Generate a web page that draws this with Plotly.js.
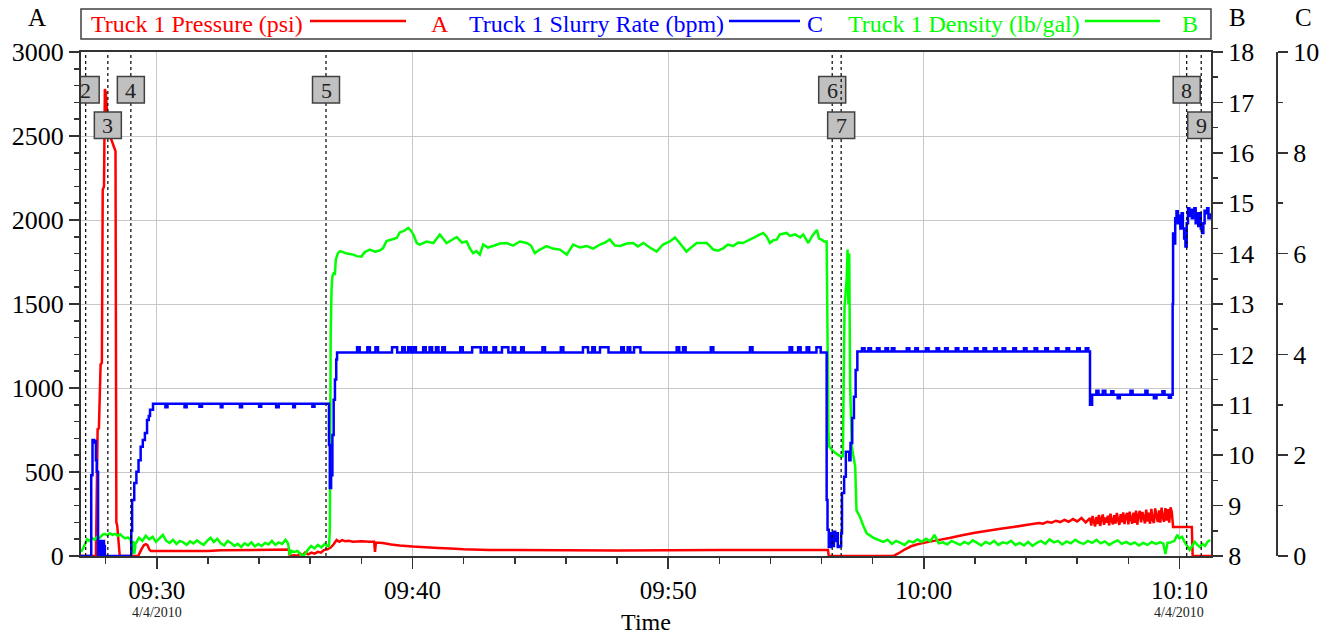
<!DOCTYPE html>
<html>
<head>
<meta charset="utf-8">
<script src="https://cdn.plot.ly/plotly-3.0.1.min.js"></script>
<style>
html,body{margin:0;padding:0;background:#fff;}
#chart{width:1331px;height:635px;}
</style>
</head>
<body>
<div id="chart"></div>
<script>
// ---------------- DATA ----------------
const day = '2010-04-04 ';

// Truck 1 Pressure (psi) -> axis A
const pressureTimes = [
 '09:27:02','09:27:37','09:27:41','09:27:44','09:27:48','09:27:51','09:27:53','09:27:56','09:27:58','09:28:00',
 '09:28:03','09:28:08','09:28:13','09:28:20','09:28:23','09:28:25','09:28:27','09:28:33','09:29:16','09:29:20',
 '09:29:25','09:29:30','09:29:34','09:29:38','09:29:42','09:29:46','09:32:00','09:32:30','09:35:10','09:35:12',
 '09:35:22','09:35:30','09:35:36','09:35:42','09:35:48','09:35:55','09:36:03','09:36:10','09:36:18','09:36:25',
 '09:36:32','09:36:40','09:36:48','09:36:55','09:37:02','09:37:08','09:37:15','09:37:22','09:37:30','09:37:40',
 '09:38:00','09:38:20','09:38:30','09:38:32','09:38:34','09:38:50','09:39:10','09:39:30','09:40:00','09:40:30',
 '09:41:00','09:41:30','09:42:00','09:43:00','09:44:00','09:48:00','09:52:00','09:56:15','09:56:17','09:58:48',
 '09:59:00','09:59:16','09:59:30','09:59:45','10:00:00','10:00:30','10:01:00','10:01:30','10:02:00','10:02:30',
 '10:03:00','10:03:30','10:04:00','10:04:30','10:04:40','10:04:50','10:05:00','10:05:10','10:05:20','10:05:30',
 '10:05:40','10:05:50','10:06:00','10:06:10','10:06:20',
 '10:06:30','10:06:33','10:06:36','10:06:39','10:06:42','10:06:45','10:06:48','10:06:51','10:06:54','10:06:57',
 '10:07:00','10:07:03','10:07:06','10:07:09','10:07:12','10:07:15','10:07:18','10:07:21','10:07:24','10:07:27',
 '10:07:30','10:07:33','10:07:36','10:07:39','10:07:42','10:07:45','10:07:48','10:07:51','10:07:54','10:07:57',
 '10:08:00','10:08:03','10:08:06','10:08:09','10:08:12','10:08:15','10:08:18','10:08:21','10:08:24','10:08:27',
 '10:08:30','10:08:33','10:08:36','10:08:39','10:08:42','10:08:45','10:08:48','10:08:51','10:08:54','10:08:57',
 '10:09:00','10:09:03','10:09:06','10:09:09','10:09:12','10:09:15','10:09:18','10:09:21','10:09:24','10:09:27',
 '10:09:30','10:09:33','10:09:36','10:09:39','10:09:42',
 '10:09:45','10:10:29','10:10:31','10:11:14'
];
const pressurePsi = [
 0,0,755,760,1140,1150,2180,2200,2780,2760,
 2650,2500,2480,2430,2410,200,180,0,0,20,
 45,65,70,65,40,30,30,34,38,0,
 5,0,15,5,20,10,20,14,25,20,
 35,40,50,70,95,85,95,88,90,85,
 88,85,85,25,80,78,68,62,56,52,
 48,44,40,36,35,33,35,36,0,0,
 15,40,58,70,78,93,107,123,138,150,
 162,172,185,197,192,204,198,210,202,215,
 204,220,206,226,200,
 226,181,238,205,176,232,190,244,179,221,
 247,186,229,198,240,183,252,209,188,243,
 193,256,214,185,249,201,260,190,236,257,
 189,264,222,193,258,197,270,186,245,268,
 200,262,231,194,276,205,258,192,280,215,
 197,283,240,203,271,199,288,226,204,285,
 210,279,198,290,262,
 173,173,0,0
];

// Truck 1 Slurry Rate (bpm) -> axis C (stepwise logger values)
const rateTimes = [
 '09:27:02','09:27:26','09:27:29','09:27:33','09:27:35','09:27:37','09:27:39','09:27:42','09:27:43','09:27:44',
 '09:27:45','09:27:46','09:27:47','09:27:48','09:27:49','09:27:50','09:27:51','09:27:52','09:27:53','09:27:54',
 '09:27:55','09:27:56','09:27:57','09:27:58','09:29:00','09:29:02','09:29:07','09:29:12','09:29:17','09:29:22',
 '09:29:27','09:29:32','09:29:37','09:29:41','09:29:44','09:29:51',
 '09:30:20','09:30:25','09:31:05','09:31:10','09:31:40','09:31:46','09:32:30','09:32:34','09:33:15','09:33:20',
 '09:34:00','09:34:05','09:34:40','09:34:46','09:35:20','09:35:24','09:36:05','09:36:10',
 '09:36:44','09:36:46','09:36:49','09:36:52','09:36:55','09:36:58','09:37:01','09:37:03',
 '09:37:50','09:37:56','09:38:14','09:38:20','09:38:33','09:38:39','09:39:12','09:39:24','09:39:36','09:39:42',
 '09:39:50','09:39:56','09:40:02','09:40:08','09:40:25','09:40:31','09:40:40','09:40:46','09:40:55','09:41:01',
 '09:41:10','09:41:16','09:41:52','09:41:58','09:42:20','09:42:40','09:42:48','09:42:54','09:43:10','09:43:16',
 '09:43:30','09:43:45','09:43:55','09:44:01','09:44:15','09:44:21','09:45:05','09:45:11','09:45:48','09:45:54',
 '09:46:40','09:46:52','09:47:02','09:47:08','09:47:20','09:47:40','09:48:10','09:48:16','09:48:25','09:48:31',
 '09:48:40','09:48:55','09:50:20','09:50:26','09:50:35','09:50:41','09:51:40','09:51:46','09:53:12','09:53:18',
 '09:54:45','09:54:51','09:55:05','09:55:11','09:55:25','09:55:31','09:55:48','09:55:58',
 '09:56:12','09:56:14','09:56:17','09:56:21','09:56:25','09:56:29','09:56:32','09:56:35','09:56:38','09:56:42',
 '09:56:46','09:56:48','09:56:53','09:56:57','09:57:05','09:57:08','09:57:12','09:57:16','09:57:20','09:57:24',
 '09:57:35','09:57:41','09:57:50','09:57:56','09:58:10','09:58:16','09:58:30','09:58:36','09:58:45','09:58:51',
 '09:59:20','09:59:26','09:59:40','09:59:46','10:00:05','10:00:11','10:00:30','10:00:36','10:00:50','10:00:56',
 '10:01:15','10:01:21','10:01:35','10:01:41','10:02:00','10:02:06','10:02:20','10:02:26','10:02:45','10:02:51',
 '10:03:05','10:03:11','10:03:30','10:03:36','10:03:55','10:04:01','10:04:20','10:04:26','10:04:45','10:04:51',
 '10:05:10','10:05:16','10:05:35','10:05:41','10:06:00','10:06:06','10:06:20','10:06:26',
 '10:06:30','10:06:35','10:06:45','10:06:50','10:07:00','10:07:06','10:07:20','10:07:25','10:07:35','10:07:40',
 '10:08:05','10:08:10','10:08:40','10:08:45','10:09:00','10:09:06','10:09:20','10:09:25','10:09:35','10:09:40',
 '10:09:44','10:09:45','10:09:48','10:09:50','10:09:53','10:09:56','10:09:59','10:10:02','10:10:05','10:10:08',
 '10:10:11','10:10:14','10:10:17','10:10:20','10:10:23','10:10:26','10:10:29','10:10:32','10:10:35','10:10:38',
 '10:10:41','10:10:44','10:10:47','10:10:50','10:10:53','10:10:56','10:10:59','10:11:02','10:11:05','10:11:08',
 '10:11:14'
];
const rateBpm = [
 0,1.6,2.3,2.25,2.28,1.9,1.67,0,0.3,0,
 0.3,0.05,0.3,0,0.28,0.02,0.3,0,0.25,0.05,
 0.3,0,0.2,0,0.5,1.11,1.45,1.67,1.9,2.17,
 2.3,2.44,2.7,2.78,2.9,3.02,
 2.95,3.02,2.95,3.02,2.96,3.02,2.95,3.02,2.95,3.02,
 2.96,3.02,2.95,3.02,2.95,3.02,2.96,3.02,
 2.2,1.35,1.6,2.4,3.1,3.5,3.9,4.04,
 4.14,4.04,4.14,4.04,4.14,4.04,4.14,4.04,4.14,4.04,
 4.14,4.04,4.14,4.04,4.14,4.04,4.14,4.04,4.14,4.04,
 4.14,4.04,4.14,4.04,4.14,4.04,4.14,4.04,4.14,4.04,
 4.14,4.04,4.14,4.04,4.14,4.04,4.14,4.04,4.14,4.04,
 4.14,4.04,4.14,4.04,4.14,4.04,4.14,4.04,4.14,4.04,
 4.14,4.04,4.14,4.04,4.14,4.04,4.14,4.04,4.14,4.04,
 4.14,4.04,4.14,4.04,4.14,4.04,4.14,4.04,
 1.11,0.52,0.18,0.45,0.2,0.48,0.3,0.45,0.18,0.2,
 0.45,1.25,1.57,2.07,1.9,2.24,2.74,3.16,3.69,4.06,
 4.12,4.06,4.12,4.06,4.12,4.06,4.12,4.06,4.12,4.06,
 4.12,4.06,4.12,4.06,4.12,4.06,4.12,4.06,4.12,4.06,
 4.12,4.06,4.12,4.06,4.12,4.06,4.12,4.06,4.12,4.06,
 4.12,4.06,4.12,4.06,4.12,4.06,4.12,4.06,4.12,4.06,
 4.12,4.06,4.12,4.06,4.12,4.06,4.12,4.06,
 3.0,3.2,3.28,3.2,3.28,3.2,3.27,3.2,3.13,3.2,
 3.28,3.2,3.28,3.2,3.13,3.2,3.27,3.2,3.14,3.2,
 5.0,6.4,6.2,6.7,6.84,6.6,6.75,6.5,6.8,6.5,
 6.3,6.14,6.6,6.9,6.75,6.87,6.7,6.85,6.9,6.6,
 6.8,6.55,6.8,6.5,6.41,6.6,6.85,6.8,6.9,6.7,
 6.8
];

// Truck 1 Density (lb/gal) -> axis B
const densityTimes = [
 '09:27:02','09:27:07','09:27:12','09:27:16','09:27:22','09:27:28','09:27:34','09:27:40','09:27:46','09:27:52',
 '09:27:58','09:28:04','09:28:10','09:28:16','09:28:22','09:28:28','09:28:34','09:28:40','09:28:46','09:28:52',
 '09:28:58','09:29:01','09:29:03','09:29:05','09:29:07','09:29:10','09:29:13',
 '09:29:18','09:29:26','09:29:34','09:29:42','09:29:50','09:29:58','09:30:06','09:30:14','09:30:22','09:30:30',
 '09:30:38','09:30:46','09:30:54','09:31:02','09:31:10','09:31:18','09:31:26','09:31:34','09:31:42','09:31:50',
 '09:31:58','09:32:06','09:32:14','09:32:22','09:32:30','09:32:38','09:32:46','09:32:54','09:33:02','09:33:10',
 '09:33:18','09:33:26','09:33:34','09:33:42','09:33:50','09:33:58','09:34:06','09:34:14','09:34:22','09:34:30',
 '09:34:38','09:34:46','09:34:54','09:35:02','09:35:08','09:35:12','09:35:16','09:35:22','09:35:30','09:35:38',
 '09:35:46','09:35:54','09:36:02','09:36:10','09:36:18','09:36:26','09:36:34','09:36:40',
 '09:36:44','09:36:46','09:36:48','09:36:50','09:36:52','09:36:55','09:36:58','09:37:00','09:37:05','09:37:10',
 '09:37:14','09:37:26','09:37:41','09:37:49','09:38:00','09:38:08','09:38:20','09:38:32','09:38:43','09:38:51',
 '09:38:59','09:39:11','09:39:23','09:39:30','09:39:40','09:39:50','09:39:56','09:40:02','09:40:10','09:40:17',
 '09:40:33','09:40:49','09:41:04','09:41:20','09:41:30','09:41:44','09:41:56','09:42:07','09:42:15','09:42:22',
 '09:42:30','09:42:38','09:42:46','09:42:57','09:43:09','09:43:25','09:43:41','09:43:56','09:44:12','09:44:28',
 '09:44:38','09:44:47','09:44:59','09:45:15','09:45:29','09:45:46','09:46:02','09:46:17','09:46:33','09:46:49',
 '09:47:04','09:47:20','09:47:32','09:47:43','09:47:55','09:48:07','09:48:23','09:48:38','09:48:49','09:49:02',
 '09:49:17','09:49:33','09:49:48','09:50:04','09:50:16','09:50:28','09:50:43','09:50:51','09:51:07','09:51:31',
 '09:51:46','09:51:57','09:52:10','09:52:20','09:52:33','09:52:44','09:52:56','09:53:07','09:53:20','09:53:31',
 '09:53:43','09:53:51','09:53:59','09:54:06','09:54:15','09:54:22','09:54:38','09:54:46','09:54:58','09:55:10',
 '09:55:17','09:55:29','09:55:38','09:55:49','09:55:54','09:56:00','09:56:06','09:56:12',
 '09:56:16','09:56:18','09:56:25','09:56:32','09:56:40','09:56:46','09:56:50','09:56:54','09:56:59','09:57:01',
 '09:57:03','09:57:05','09:57:07','09:57:11','09:57:19','09:57:22','09:57:30','09:57:38','09:57:46','09:58:02',
 '09:58:25',
 '09:58:35','09:58:45','09:58:55','09:59:05','09:59:15','09:59:25','09:59:35','09:59:45','09:59:55','10:00:05',
 '10:00:15','10:00:25','10:00:35','10:00:45','10:00:55','10:01:05','10:01:15','10:01:25','10:01:35','10:01:45',
 '10:01:55','10:02:05','10:02:15','10:02:25','10:02:35','10:02:45','10:02:55','10:03:05','10:03:15','10:03:25',
 '10:03:35','10:03:45','10:03:55','10:04:05','10:04:15','10:04:25','10:04:35','10:04:45','10:04:55','10:05:05',
 '10:05:15','10:05:25','10:05:35','10:05:45','10:05:55','10:06:05','10:06:15','10:06:25','10:06:35','10:06:45',
 '10:06:55','10:07:05','10:07:15','10:07:25','10:07:35','10:07:45','10:07:55','10:08:05','10:08:15','10:08:25',
 '10:08:35','10:08:45','10:08:55','10:09:05','10:09:15','10:09:22','10:09:27','10:09:32','10:09:40','10:09:48',
 '10:09:55','10:10:00','10:10:06','10:10:12','10:10:18','10:10:24','10:10:30','10:10:36','10:10:42','10:10:48',
 '10:10:54','10:11:00','10:11:06','10:11:12'
];
const densityLbGal = [
 8.08,8.15,8.25,8.33,8.30,8.36,8.32,8.38,8.36,8.42,
 8.44,8.41,8.45,8.42,8.44,8.40,8.43,8.38,8.35,8.37,
 8.33,8.20,8.06,8.30,8.04,8.25,8.28,
 8.36,8.30,8.40,8.33,8.38,8.28,8.35,8.42,8.30,8.26,
 8.32,8.24,8.30,8.27,8.22,8.29,8.25,8.31,8.26,8.22,
 8.30,8.36,8.28,8.34,8.25,8.21,8.30,8.26,8.20,8.24,
 8.18,8.25,8.21,8.27,8.19,8.24,8.20,8.26,8.23,8.30,
 8.22,8.27,8.24,8.32,8.25,8.02,8.10,8.08,8.10,8.03,
 8.02,8.12,8.20,8.15,8.22,8.17,8.24,8.20,
 8.20,8.50,12.36,13.30,13.55,13.61,13.60,13.88,14.01,14.05,
 14.04,14.00,13.98,13.95,13.94,14.03,14.08,14.04,14.06,14.11,
 14.25,14.28,14.31,14.42,14.45,14.51,14.46,14.38,14.21,14.18,
 14.24,14.21,14.38,14.21,14.26,14.33,14.22,14.24,14.10,14.01,
 14.05,13.98,14.18,14.12,14.15,14.20,14.21,14.16,14.24,14.21,
 14.16,14.01,14.08,14.15,14.10,14.08,13.98,14.18,14.12,14.15,
 14.10,14.18,14.22,14.28,14.16,14.15,14.20,14.21,14.14,14.21,
 14.12,14.04,14.18,14.24,14.32,14.20,14.04,14.10,14.21,14.21,
 14.08,14.06,14.11,14.18,14.15,14.22,14.21,14.26,14.31,14.36,
 14.41,14.34,14.21,14.26,14.28,14.38,14.41,14.35,14.38,14.32,
 14.38,14.21,14.35,14.47,14.30,14.28,14.24,14.24,
 10.50,10.17,10.10,10.05,10.00,9.97,9.98,12.95,13.50,14.08,
 13.00,14.00,11.43,10.17,9.77,8.91,8.78,8.60,8.45,8.36,
 8.28,
 8.32,8.24,8.30,8.26,8.22,8.30,8.27,8.33,8.28,8.34,
 8.29,8.42,8.25,8.27,8.23,8.30,8.26,8.22,8.28,8.24,
 8.31,8.26,8.21,8.28,8.24,8.30,8.22,8.27,8.25,8.30,
 8.22,8.26,8.21,8.28,8.20,8.26,8.30,8.24,8.33,8.27,
 8.30,8.23,8.29,8.25,8.32,8.27,8.24,8.30,8.26,8.32,
 8.25,8.29,8.22,8.27,8.31,8.24,8.28,8.23,8.27,8.21,
 8.26,8.22,8.28,8.24,8.27,8.25,8.04,8.26,8.27,8.30,
 8.42,8.35,8.38,8.28,8.20,8.12,8.20,8.28,8.22,8.18,
 8.24,8.20,8.28,8.32
];

// Event markers (numbered boxes with dashed vertical lines)
const markerLabels = ['2','3','4','5','6','7','8','9'];
const markerTimes = ['09:27:13','09:28:05','09:28:59','09:36:37','09:56:25','09:56:46','10:10:17','10:10:51'];

// Legend entries
const seriesNames = ['Truck 1 Pressure (psi)','Truck 1 Slurry Rate (bpm)','Truck 1 Density (lb/gal)'];
const seriesAxisLetters = ['A','C','B'];
const dateLabelTimes = ['09:30:00','10:10:00'];
const dateLabelText = '4/4/2010';

// ---------------- LAYOUT ----------------
const W = 1331, H = 635;
const ML = 81, MR = 54, MT = 52, MB = 79;
const PW = W - ML - MR, PH = H - MT - MB;
const px = X => (X - ML) / PW;
const py = Y => (MT + PH - Y) / PH;
const xEnd = px(1211);

const FONT = 'Liberation Serif, Times New Roman, serif';
const RED = '#ff0000', BLUE = '#0000ff', GREEN = '#00ff00';
const AX = '#333333';
const toDate = t => day + t;

const traces = [
  {x: pressureTimes.map(toDate), y: pressurePsi, type: 'scatter', mode: 'lines',
   name: seriesNames[0], line: {color: RED, width: 2.5, simplify: false}, yaxis: 'y'},
  {x: rateTimes.map(toDate), y: rateBpm, type: 'scatter', mode: 'lines',
   name: seriesNames[1], line: {color: BLUE, width: 2.5, shape: 'hv', simplify: false}, yaxis: 'y3'},
  {x: densityTimes.map(toDate), y: densityLbGal, type: 'scatter', mode: 'lines',
   name: seriesNames[2], line: {color: GREEN, width: 2.5, simplify: false}, yaxis: 'y2'}
];

const tickFont = {family: FONT, size: 26, color: '#000'};
const xTickFont = {family: FONT, size: 25, color: '#000'};

const shapes = [];
const annotations = [];

// marker lines and boxes
let lastRow1 = null;
markerTimes.forEach((t, i) => {
  const sec = t.split(':').reduce((a, v) => a * 60 + Number(v), 0);
  let row = 1;
  if (lastRow1 !== null && sec - lastRow1 < 60) row = 2; else lastRow1 = sec;
  shapes.push({type: 'line', xref: 'x', yref: 'paper', x0: toDate(t), x1: toDate(t), y0: 0, y1: 1,
    line: {color: '#000', width: 1.2, dash: '3px,3px'}});
  const top = row === 1 ? 24.5 : 60;
  shapes.push({type: 'rect', xref: 'x', yref: 'paper', xsizemode: 'pixel', ysizemode: 'pixel',
    xanchor: toDate(t), yanchor: 1, x0: -13.5, x1: 13.5, y0: -top - 26.5, y1: -top,
    fillcolor: '#c0c0c0', line: {color: '#404040', width: 1.5}});
  annotations.push({xref: 'x', yref: 'paper', x: toDate(t), y: 1, yshift: -top - 13.5,
    text: markerLabels[i], showarrow: false, xanchor: 'center', yanchor: 'middle',
    font: {family: FONT, size: 22, color: '#222'}});
});

// legend frame
shapes.push({type: 'rect', xref: 'paper', yref: 'paper', x0: 0, x1: xEnd, y0: py(39), y1: py(9),
  line: {color: '#404040', width: 1.5}, fillcolor: 'rgba(0,0,0,0)'});
const legendCols = [RED, BLUE, GREEN];
const legendTextX = [89, 467, 846];
const legendLine = [[310, 406], [729, 800], [1085, 1160]];
const legendLetterX = [440, 815, 1190];
seriesNames.forEach((n, i) => {
  annotations.push({xref: 'paper', yref: 'paper', x: px(legendTextX[i]), y: py(24), text: n,
    showarrow: false, xanchor: 'left', yanchor: 'middle', font: {family: FONT, size: 24, color: legendCols[i]}});
  shapes.push({type: 'line', xref: 'paper', yref: 'paper', x0: px(legendLine[i][0]), x1: px(legendLine[i][1]),
    y0: py(21), y1: py(21), line: {color: legendCols[i], width: 2.5}});
  annotations.push({xref: 'paper', yref: 'paper', x: px(legendLetterX[i]), y: py(24), text: seriesAxisLetters[i],
    showarrow: false, xanchor: 'center', yanchor: 'middle', font: {family: FONT, size: 24, color: legendCols[i]}});
});

// axis letters
[['A', 37], ['B', 1237], ['C', 1303]].forEach(([t, X]) => {
  annotations.push({xref: 'paper', yref: 'paper', x: px(X), y: py(17), text: t, showarrow: false,
    xanchor: 'center', yanchor: 'middle', font: {family: FONT, size: 25, color: '#000'}});
});

// dates below time ticks
dateLabelTimes.forEach(t => {
  annotations.push({xref: 'x', yref: 'paper', x: toDate(t), y: py(612), text: dateLabelText, showarrow: false,
    xanchor: 'center', yanchor: 'middle', font: {family: FONT, size: 14, color: '#222'}});
});

const layout = {
  width: W, height: H,
  margin: {l: ML, r: MR, t: MT, b: MB, pad: 0},
  paper_bgcolor: '#fff', plot_bgcolor: '#fff',
  showlegend: false,
  font: {family: FONT, color: '#000'},
  xaxis: {
    type: 'date', domain: [0, xEnd],
    range: [toDate('09:27:02'), toDate('10:11:14')],
    tick0: toDate('09:30:00'), dtick: 600000, tickformat: '%H:%M',
    ticks: 'outside', ticklen: 11, tickwidth: 1.5, tickcolor: AX,
    minor: {dtick: 120000, ticks: 'outside', ticklen: 6, tickwidth: 1.5, tickcolor: AX, showgrid: false},
    showline: true, linecolor: AX, linewidth: 2, mirror: true,
    showgrid: true, gridcolor: '#c8c8c8', gridwidth: 1,
    zeroline: false, tickfont: xTickFont,
    title: {text: 'Time', font: {family: FONT, size: 24, color: '#000'}, standoff: 22}
  },
  yaxis: {
    range: [0, 3000], dtick: 500, tick0: 0,
    ticks: 'outside', ticklen: 10, tickwidth: 1.5, tickcolor: AX,
    minor: {dtick: 100, ticks: 'outside', ticklen: 5, tickwidth: 1.5, tickcolor: AX, showgrid: false},
    showline: true, linecolor: AX, linewidth: 2,
    showgrid: true, gridcolor: '#c8c8c8', gridwidth: 1, zeroline: false,
    tickfont: tickFont
  },
  yaxis2: {
    overlaying: 'y', side: 'right', anchor: 'x',
    range: [8, 18], dtick: 1, tick0: 8,
    ticks: 'outside', ticklen: 10, tickwidth: 1.5, tickcolor: AX,
    minor: {dtick: 0.5, ticks: 'outside', ticklen: 5, tickwidth: 1.5, tickcolor: AX, showgrid: false},
    showline: true, linecolor: AX, linewidth: 2,
    showgrid: false, zeroline: false, tickfont: tickFont
  },
  yaxis3: {
    overlaying: 'y', side: 'right', anchor: 'free', position: 1,
    range: [0, 10], dtick: 2, tick0: 0,
    ticks: 'outside', ticklen: 10, tickwidth: 1.5, tickcolor: AX,
    minor: {dtick: 1, ticks: 'outside', ticklen: 5, tickwidth: 1.5, tickcolor: AX, showgrid: false},
    showline: true, linecolor: AX, linewidth: 2,
    showgrid: false, zeroline: false, tickfont: tickFont
  },
  shapes: shapes,
  annotations: annotations
};

Plotly.newPlot('chart', traces, layout, {staticPlot: true, displayModeBar: false});
</script>
</body>
</html>
